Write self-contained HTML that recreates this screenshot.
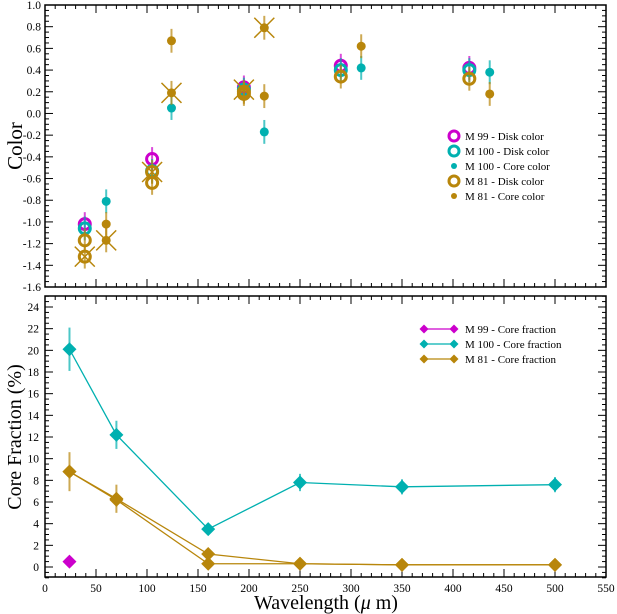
<!DOCTYPE html>
<html><head><meta charset="utf-8"><style>
body{margin:0;background:#fff}
svg{display:block;font-family:"Liberation Serif",serif}
</style></head><body>
<svg id="c" width="617" height="614" viewBox="0 0 617 614"></svg>
<script>
// top panel data
const topDiskM99 = [[39,-1.02],[105,-0.42],[195,0.24],[290,0.44],[416,0.42]];
const topDiskM100 = [[39,-1.06],[105,-0.53],[195,0.22],[290,0.40],[416,0.40]];
const topDiskM81 = [[39,-1.17],[39,-1.32],[105,-0.54],[105,-0.64],[195,0.20],[195,0.18],[290,0.34],[416,0.32]];
const topCoreM100 = [[60,-0.81],[124,0.05],[215,-0.17],[310,0.42],[436,0.38]];
const topCoreM81 = [[60,-1.02],[60,-1.17],[124,0.67],[124,0.19],[215,0.16],[215,0.79],[310,0.62],[436,0.18]];
const topStars = [[39,-1.32],[60,-1.17],[105,-0.54],[124,0.19],[195,0.22],[215,0.79]];
const topErr = 0.11;
// bottom panel data
const wl = [24,70,160,250,350,500];
const fracM100 = [20.1,12.2,3.5,7.8,7.4,7.6];
const errM100 = [2.0,1.3,0,0.8,0.7,0.7];
const fracM81a = [8.8,6.3,1.2,0.3,0.2,0.2];
const fracM81b = [8.8,6.2,0.3,0.3,0.2,0.2];
const errM81 = [1.8,1.3,0,0,0,0];
const fracM99 = [[24,0.5]];
const topTicks = [-1.6,-1.4,-1.2,-1.0,-0.8,-0.6,-0.4,-0.2,0.0,0.2,0.4,0.6,0.8,1.0];
const botTicks = [0,2,4,6,8,10,12,14,16,18,20,22,24];
const xTicks = [0,50,100,150,200,250,300,350,400,450,500,550];

const C={m99:'#cc00cc',m100:'#00b0b0',m81:'#b8860b'};
const svg=document.getElementById('c');
const NS='http://www.w3.org/2000/svg';
function el(t,a,p){const e=document.createElementNS(NS,t);for(const k in a)e.setAttribute(k,a[k]);(p||svg).appendChild(e);return e;}
const X0=45,X1=606;
const sx=v=>X0+(v/550)*(X1-X0);
const T0=5,T1=287;const sy=v=>T0+(1.0-v)/2.6*(T1-T0);
const B0=296,B1=577;const by=v=>567-(v/24)*(567-307);

function frame(y0,y1,name){
  const r=el('rect',{x:X0,y:y0,width:X1-X0,height:y1-y0,fill:'none',stroke:'#000','stroke-width':1.5});
  
  
  for(let v=0;v<=550;v+=10){const x=sx(v);const L=v%50==0?8:4;
    el('line',{x1:x,x2:x,y1:y1,y2:y1-L,stroke:'#000'});el('line',{x1:x,x2:x,y1:y0,y2:y0+L,stroke:'#000'});}
}
frame(T0,T1,'color-panel-frame');
frame(B0,B1,'fraction-panel-frame');
for(let i=0;i<=52;i++){const v=-1.6+i*0.05;const y=sy(v);const L=i%4==0?8:4;
  el('line',{x1:X0,x2:X0+L,y1:y,y2:y,stroke:'#000'});el('line',{x1:X1,x2:X1-L,y1:y,y2:y,stroke:'#000'});}
topTicks.forEach(v=>{const t=el('text',{x:X0-4,y:sy(v)+4,'font-size':11.5,'text-anchor':'end'});t.textContent=v.toFixed(1);
  
  });
for(let v=-1;v<=25;v+=0.5){const y=by(v);const L=v%2==0?8:4;
  el('line',{x1:X0,x2:X0+L,y1:y,y2:y,stroke:'#000'});el('line',{x1:X1,x2:X1-L,y1:y,y2:y,stroke:'#000'});}
botTicks.forEach(v=>{const t=el('text',{x:X0-6,y:by(v)+4,'font-size':11.5,'text-anchor':'end'});t.textContent=v;
  
  });
xTicks.forEach(v=>{const t=el('text',{x:sx(v),y:592,'font-size':11.5,'text-anchor':'middle'});t.textContent=v;
  
  });
let t=el('text',{x:22,y:146,'font-size':21,'text-anchor':'middle',transform:'rotate(-90 22 146)'});t.textContent='Color';


t=el('text',{x:21,y:437,'font-size':20,'text-anchor':'middle',transform:'rotate(-90 21 437)'});t.textContent='Core Fraction (%)';


t=el('text',{x:326,y:609,'font-size':20,'text-anchor':'middle'});t.innerHTML='Wavelength (<tspan font-style="italic">μ</tspan> m)';



function err(x,y1,y2,c){el('line',{x1:x,x2:x,y1:y1,y2:y2,stroke:c,'stroke-width':2,opacity:0.7});}
function ring(arr,c,name){arr.forEach(([x,v])=>{err(sx(x),sy(v+topErr),sy(v-topErr),c);
  const e=el('circle',{cx:sx(x),cy:sy(v),r:5.5,fill:'none',stroke:c,'stroke-width':3});
  
  });}
function dot(arr,c,name){arr.forEach(([x,v])=>{err(sx(x),sy(v+topErr),sy(v-topErr),c);
  const e=el('circle',{cx:sx(x),cy:sy(v),r:4.5,fill:c});
  
  });}
ring(topDiskM99,C.m99,'m99-disk-point');
ring(topDiskM100,C.m100,'m100-disk-point');
dot(topCoreM100,C.m100,'m100-core-point');
ring(topDiskM81,C.m81,'m81-disk-point');
dot(topCoreM81,C.m81,'m81-core-point');
topStars.forEach(([x,v])=>{const cx=sx(x),cy=sy(v);
  const g=el('path',{d:`M${cx-10},${cy-10}L${cx+10},${cy+10}M${cx-10},${cy+10}L${cx+10},${cy-10}`,stroke:C.m81,'stroke-width':1.5});
  
  });
const leg1=[['ring',C.m99,'M 99 - Disk color'],['ring',C.m100,'M 100 - Disk color'],['dot',C.m100,'M 100 - Core color'],['ring',C.m81,'M 81 - Disk color'],['dot',C.m81,'M 81 - Core color']];
leg1.forEach((l,i)=>{const y=136+i*15;
  if(l[0]=='ring')el('circle',{cx:454,cy:y,r:5,fill:'none',stroke:l[1],'stroke-width':3});else el('circle',{cx:454,cy:y,r:3,fill:l[1]});
  const tt=el('text',{x:465,y:y+4,'font-size':11});tt.textContent=l[2];
  
  });
function diamond(x,y,c,s){return el('path',{d:`M${x},${y-s}L${x+s},${y}L${x},${y+s}L${x-s},${y}Z`,fill:c});}
function series(vals,errs,c,name){
  errs&&vals.forEach((v,i)=>{if(errs[i])err(sx(wl[i]),by(v+errs[i]),by(v-errs[i]),c);});
  const p=el('polyline',{points:vals.map((v,i)=>sx(wl[i])+','+by(v)).join(' '),fill:'none',stroke:c,'stroke-width':1.3});
  
  
  vals.forEach((v,i)=>{const d=diamond(sx(wl[i]),by(v),c,7);
    
    });
}
series(fracM100,errM100,C.m100,'m100-fraction');
series(fracM81a,errM81,C.m81,'m81-fraction-a');
series(fracM81b,null,C.m81,'m81-fraction-b');
fracM99.forEach(([x,v])=>{const d=diamond(sx(x),by(v),C.m99,7);
  
  });
const leg2=[[C.m99,'M 99 - Core fraction'],[C.m100,'M 100 - Core fraction'],[C.m81,'M 81 - Core fraction']];
leg2.forEach((l,i)=>{const y=329+i*15;
  el('line',{x1:424,x2:454,y1:y,y2:y,stroke:l[0],'stroke-width':1.3});diamond(424,y,l[0],4.5);diamond(454,y,l[0],4.5);
  const tt=el('text',{x:465,y:y+4,'font-size':11});tt.textContent=l[1];
  
  });
</script>
</body></html>
